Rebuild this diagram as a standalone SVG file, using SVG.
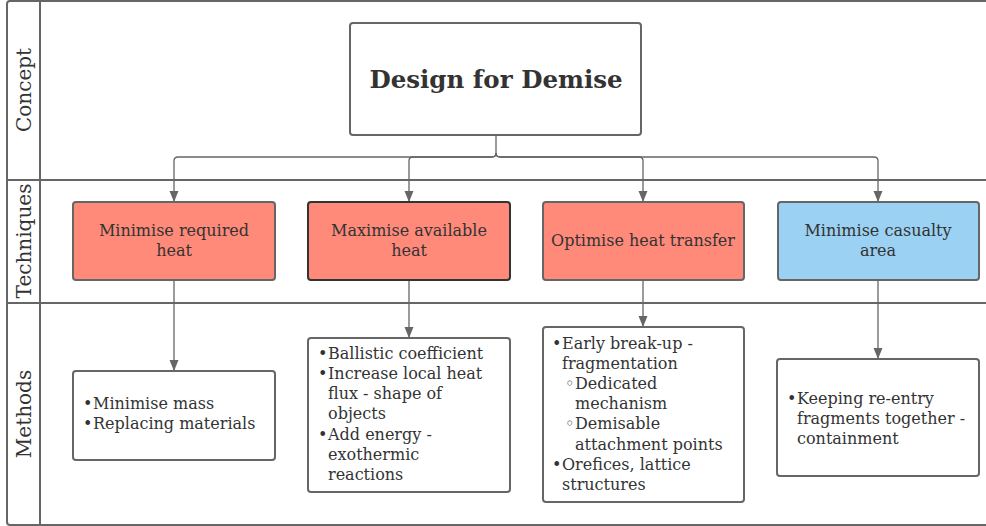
<svg xmlns="http://www.w3.org/2000/svg" width="986" height="526" viewBox="0 0 986 526">
<defs>
<marker id="ar" viewBox="-5 -11 10 12" refX="0" refY="0" markerWidth="10" markerHeight="12" markerUnits="userSpaceOnUse" orient="0">
<path d="M-4.5 -11 L4.5 -11 L0 0 Z" fill="#666"/>
</marker>
</defs>
<style>
.lane{fill:none;stroke:#666;stroke-width:2}
.lt{font-family:"DejaVu Serif","Liberation Serif",serif;font-size:20px;fill:#333;text-anchor:middle}
.box{fill:#fff;stroke:#666;stroke-width:2}
.red{fill:#ff8a7a;stroke:#666;stroke-width:2}
.redd{fill:#ff8a7a;stroke:#333;stroke-width:2}
.blue{fill:#9bd1f2;stroke:#666;stroke-width:2}
.t{font-family:"DejaVu Serif","Liberation Serif",serif;font-size:16px;fill:#333}
.c{text-anchor:middle}
.title{font-family:"DejaVu Serif","Liberation Serif",serif;font-size:24.5px;font-weight:bold;fill:#333;text-anchor:middle}
.con{fill:none;stroke:#666;stroke-width:1.3}
</style>
<rect width="986" height="526" fill="#fff"/>
<g id="lanes">
<rect class="lane" x="7" y="1" width="1000" height="524" rx="3"/>
<line class="lane" x1="40" y1="1" x2="40" y2="525"/>
<line class="lane" x1="7" y1="180" x2="986" y2="180"/>
<line class="lane" x1="7" y1="303" x2="986" y2="303"/>
<text class="lt" transform="translate(31 90) rotate(-90)">Concept</text>
<text class="lt" transform="translate(31 241) rotate(-90)">Techniques</text>
<text class="lt" transform="translate(31 414) rotate(-90)">Methods</text>
</g>
<g id="connectors">
<path class="con" marker-end="url(#ar)" d="M496 135 V153 Q496 157 492 157 H178 Q174 157 174 161 V202"/>
<path class="con" marker-end="url(#ar)" d="M496 153 Q496 157 492 157 H413 Q409 157 409 161 V202"/>
<path class="con" marker-end="url(#ar)" d="M496 153 Q496 157 500 157 H639 Q643 157 643 161 V202"/>
<path class="con" marker-end="url(#ar)" d="M496 153 Q496 157 500 157 H874 Q878 157 878 161 V202"/>
<path class="con" marker-end="url(#ar)" d="M174 280 V371"/>
<path class="con" marker-end="url(#ar)" d="M409 280 V338"/>
<path class="con" marker-end="url(#ar)" d="M643 280 V327"/>
<path class="con" marker-end="url(#ar)" d="M878 280 V359"/>
</g>
<g id="design-for-demise">
<rect class="box" x="350" y="23" width="291" height="112" rx="3"/>
<text class="title" x="496" y="88">Design for Demise</text>
</g>
<g id="minimise-required-heat">
<rect class="red" x="73" y="202" width="202" height="78" rx="3"/>
<text class="t c" x="174" y="236">Minimise required</text>
<text class="t c" x="174" y="256">heat</text>
</g>
<g id="maximise-available-heat">
<rect class="redd" x="308" y="202" width="202" height="78" rx="3"/>
<text class="t c" x="409" y="236">Maximise available</text>
<text class="t c" x="409" y="256">heat</text>
</g>
<g id="optimise-heat-transfer">
<rect class="red" x="543" y="202" width="201" height="78" rx="3"/>
<text class="t c" x="643" y="246">Optimise heat transfer</text>
</g>
<g id="minimise-casualty-area">
<rect class="blue" x="778" y="202" width="201" height="78" rx="3"/>
<text class="t c" x="878" y="236">Minimise casualty</text>
<text class="t c" x="878" y="256">area</text>
</g>
<g id="methods-1">
<rect class="box" x="73" y="371" width="202" height="89" rx="3"/>
<text class="t" x="83" y="409">•</text><text class="t" x="93" y="409">Minimise mass</text>
<text class="t" x="83" y="429">•</text><text class="t" x="93" y="429">Replacing materials</text>
</g>
<g id="methods-2">
<rect class="box" x="308" y="338" width="202" height="154" rx="3"/>
<text class="t" x="318" y="359">•</text><text class="t" x="328" y="359">Ballistic coefficient</text>
<text class="t" x="318" y="379">•</text><text class="t" x="328" y="379">Increase local heat</text>
<text class="t" x="328" y="399">flux - shape of</text>
<text class="t" x="328" y="419">objects</text>
<text class="t" x="318" y="440">•</text><text class="t" x="328" y="440">Add energy -</text>
<text class="t" x="328" y="460">exothermic</text>
<text class="t" x="328" y="480">reactions</text>
</g>
<g id="methods-3">
<rect class="box" x="543" y="327" width="201" height="175" rx="3"/>
<text class="t" x="552" y="349">•</text><text class="t" x="562" y="349">Early break-up -</text>
<text class="t" x="562" y="369">fragmentation</text>
<text class="t" x="565" y="389">◦</text><text class="t" x="575" y="389">Dedicated</text>
<text class="t" x="575" y="409">mechanism</text>
<text class="t" x="565" y="429">◦</text><text class="t" x="575" y="429">Demisable</text>
<text class="t" x="575" y="450">attachment points</text>
<text class="t" x="552" y="470">•</text><text class="t" x="562" y="470">Orefices, lattice</text>
<text class="t" x="562" y="490">structures</text>
</g>
<g id="methods-4">
<rect class="box" x="777" y="359" width="202" height="117" rx="3"/>
<text class="t" x="787" y="404">•</text><text class="t" x="797" y="404">Keeping re-entry</text>
<text class="t" x="797" y="424">fragments together -</text>
<text class="t" x="797" y="444">containment</text>
</g>
</svg>
